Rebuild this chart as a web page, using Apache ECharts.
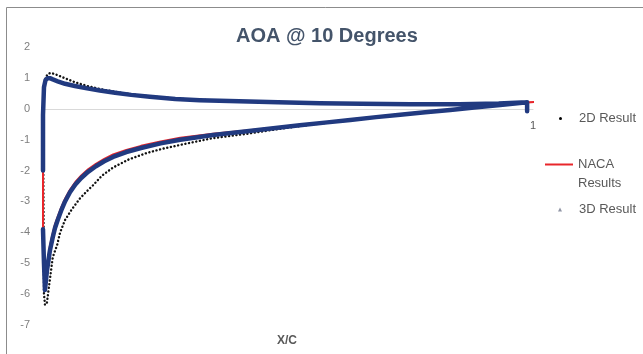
<!DOCTYPE html>
<html>
<head>
<meta charset="utf-8">
<script src="https://cdn.jsdelivr.net/npm/echarts@6/dist/echarts.min.js"></script>
<style>
html,body{margin:0;padding:0;background:#fff;}
#chart{width:643px;height:354px;}
</style>
</head>
<body>
<div id="chart"></div>
<script>
// ---- Data ----
const yTicks = [-7, -6, -5, -4, -3, -2, -1, 0, 1, 2];
const xTicks = [0, 1];

// 2D Result: pressure side (TE -> LE) then suction side (LE -> TE)
const xc2DPressure = [0.988, 0.93, 0.85, 0.75, 0.65, 0.565, 0.48, 0.4, 0.32, 0.27, 0.218, 0.18, 0.147, 0.116, 0.09, 0.065, 0.04, 0.025, 0.016, 0.01, 0.005, 0.0];
const cp2DPressure = [0.21, 0.17, 0.15, 0.15, 0.16, 0.18, 0.21, 0.24, 0.29, 0.33, 0.40, 0.47, 0.55, 0.64, 0.74, 0.86, 1.02, 1.12, 1.16, 1.13, 1.0, 0.0];
const xc2DSuction = [0.002, 0.004, 0.008, 0.014, 0.02, 0.029, 0.035, 0.045, 0.059, 0.0755, 0.092, 0.102, 0.12, 0.143, 0.175, 0.212, 0.245, 0.28, 0.347, 0.416, 0.47, 0.524, 0.58, 0.627, 0.68, 0.729, 0.78, 0.831, 0.88, 0.933, 0.988];
const cp2DSuction = [-6.0, -6.35, -6.28, -5.54, -4.8, -4.4, -4.0, -3.6, -3.25, -2.9, -2.63, -2.48, -2.17, -1.9, -1.64, -1.43, -1.29, -1.17, -0.95, -0.81, -0.68, -0.56, -0.45, -0.37, -0.28, -0.19, -0.11, -0.04, 0.04, 0.12, 0.21];

// NACA Results
const xcNacaPressure = [1.004, 0.93, 0.85, 0.75, 0.65, 0.565, 0.48, 0.4, 0.32, 0.27, 0.218, 0.18, 0.147, 0.116, 0.09, 0.065, 0.045, 0.03, 0.02, 0.014, 0.009, 0.005, 0.002, 0.0];
const cpNacaPressure = [0.22, 0.17, 0.15, 0.15, 0.16, 0.18, 0.21, 0.24, 0.28, 0.32, 0.39, 0.45, 0.52, 0.59, 0.66, 0.74, 0.81, 0.89, 0.95, 0.99, 0.99, 0.92, 0.7, -2.0];
const xcNacaSuction = [0.0, 0.003, 0.008, 0.014, 0.02, 0.0245, 0.03, 0.037, 0.045, 0.055, 0.066, 0.078, 0.092, 0.108, 0.125, 0.143, 0.17, 0.2, 0.24, 0.28, 0.347, 0.416, 0.47, 0.524, 0.58, 0.627, 0.68, 0.729, 0.78, 0.831, 0.88, 0.933, 1.004];
const cpNacaSuction = [-4.0, -5.6, -5.1, -4.45, -4.02, -3.74, -3.5, -3.2, -2.91, -2.62, -2.37, -2.16, -1.96, -1.78, -1.62, -1.48, -1.33, -1.2, -1.06, -0.94, -0.81, -0.70, -0.61, -0.52, -0.43, -0.35, -0.26, -0.18, -0.10, -0.03, 0.05, 0.13, 0.22];

// 3D Result
const xc3DPressure = [0.988, 0.988, 0.93, 0.85, 0.75, 0.65, 0.565, 0.48, 0.4, 0.32, 0.27, 0.218, 0.18, 0.147, 0.116, 0.09, 0.065, 0.045, 0.03, 0.02, 0.014, 0.009, 0.005, 0.002, 0.0, 0.0];
const cp3DPressure = [-0.08, 0.21, 0.17, 0.15, 0.15, 0.16, 0.18, 0.21, 0.24, 0.28, 0.32, 0.39, 0.45, 0.52, 0.59, 0.66, 0.74, 0.81, 0.89, 0.95, 0.99, 0.99, 0.92, 0.7, -0.2, -2.0];
const xc3DSuction = [0.0, 0.002, 0.004, 0.008, 0.014, 0.02, 0.0245, 0.03, 0.037, 0.045, 0.055, 0.066, 0.078, 0.092, 0.108, 0.125, 0.143, 0.17, 0.2, 0.24, 0.28, 0.347, 0.416, 0.47, 0.524, 0.58, 0.627, 0.68, 0.729, 0.78, 0.831, 0.88, 0.933, 0.988];
const cp3DSuction = [-3.9, -5.0, -5.87, -5.25, -4.6, -4.15, -3.86, -3.6, -3.3, -3.0, -2.7, -2.45, -2.24, -2.04, -1.86, -1.7, -1.56, -1.40, -1.27, -1.12, -1.0, -0.85, -0.73, -0.63, -0.53, -0.44, -0.36, -0.27, -0.19, -0.11, -0.04, 0.04, 0.12, 0.21];

const seriesNames = ['2D Result', 'NACA Results', '3D Result'];

// ---- Build ----
function pairs(xs, ys) { return xs.map((x, i) => [x, ys[i]]); }
const data2D = pairs(xc2DPressure, cp2DPressure).concat(pairs(xc2DSuction, cp2DSuction));
const dataNaca = pairs(xcNacaPressure, cpNacaPressure).concat(pairs(xcNacaSuction, cpNacaSuction));
const data3D = pairs(xc3DPressure, cp3DPressure).concat([[0, '-']], pairs(xc3DSuction, cp3DSuction));

const GRID = {left: 43, right: 110, top: 47, bottom: 29};
const plotH = 354 - GRID.top - GRID.bottom;
const yMin = yTicks[0], yMax = yTicks[yTicks.length - 1];
// move the x axis (line + labels) up to the Cp = 0 line
const xAxisOffset = -plotH * (0 - yMin) / (yMax - yMin);

const chart = echarts.init(document.getElementById('chart'), null, {renderer: 'canvas'});
const FONT = '"Liberation Sans", "Open Sans", sans-serif';
const legendText = {color: '#595959', fontSize: 13, fontFamily: FONT};

chart.setOption({
  animation: false,
  backgroundColor: '#ffffff',
  graphic: [{
    type: 'rect', silent: true, z: -10,
    shape: {x: 6.5, y: 7.5, width: 700, height: 400},
    style: {fill: 'none', stroke: '#8c8c8c', lineWidth: 1}
  }],
  title: [
    {text: 'AOA @ 10 Degrees', left: 231, top: 21,
     textStyle: {color: '#44546A', fontSize: 20, fontWeight: 'bold', fontFamily: FONT}},
    {text: 'X/C', left: 272, top: 330,
     textStyle: {color: '#595959', fontSize: 12, fontWeight: 'bold', fontFamily: FONT}}
  ],
  grid: Object.assign({containLabel: false}, GRID),
  xAxis: {
    type: 'value', min: xTicks[0], max: xTicks[xTicks.length - 1], interval: 1,
    position: 'bottom', offset: xAxisOffset,
    axisLine: {onZero: false, lineStyle: {color: '#d9d9d9', width: 1}},
    axisTick: {show: false}, splitLine: {show: false},
    axisLabel: {color: '#595959', fontSize: 11, fontFamily: FONT, margin: 12,
      formatter: v => (v === 1 ? '1' : '')}
  },
  yAxis: {
    type: 'value', min: yMin, max: yMax, interval: 1,
    axisLine: {show: false}, axisTick: {show: false}, splitLine: {show: false},
    axisLabel: {color: '#7f7f7f', fontSize: 11, fontFamily: FONT, margin: 13}
  },
  legend: [
    {data: [{name: seriesNames[0], icon: 'circle', itemStyle: {color: '#000'}}],
     orient: 'vertical', left: 559, top: 112, padding: 0, itemWidth: 3, itemHeight: 3,
     textStyle: Object.assign({padding: [0, 0, 0, 12]}, legendText)},
    {data: [{name: seriesNames[1], icon: 'rect', itemStyle: {color: '#E8262B'}}],
     formatter: n => ' \nNACA\nResults',
     orient: 'vertical', left: 545, top: 136, padding: 0, itemWidth: 28, itemHeight: 2,
     textStyle: Object.assign({lineHeight: 19}, legendText)},
    {data: [{name: seriesNames[2], icon: 'triangle', itemStyle: {color: '#9095a5'}}],
     orient: 'vertical', left: 558, top: 203, padding: 0, itemWidth: 4, itemHeight: 4,
     textStyle: Object.assign({padding: [0, 0, 0, 12]}, legendText)}
  ],
  series: [
    {name: seriesNames[0], type: 'line', data: data2D, showSymbol: false, smooth: false,
     lineStyle: {color: '#111', width: 2.4, type: [0.1, 3.6], cap: 'round'},
     itemStyle: {color: '#000'}, z: 2},
    {name: seriesNames[1], type: 'line', data: dataNaca, showSymbol: false,
     lineStyle: {color: '#E8262B', width: 2}, itemStyle: {color: '#E8262B'}, z: 3},
    {name: seriesNames[2], type: 'line', data: data3D, showSymbol: false, connectNulls: false,
     lineStyle: {color: '#213A80', width: 4.5, join: 'round', cap: 'round'},
     itemStyle: {color: '#213A80'}, z: 4}
  ]
});
</script>
</body>
</html>
